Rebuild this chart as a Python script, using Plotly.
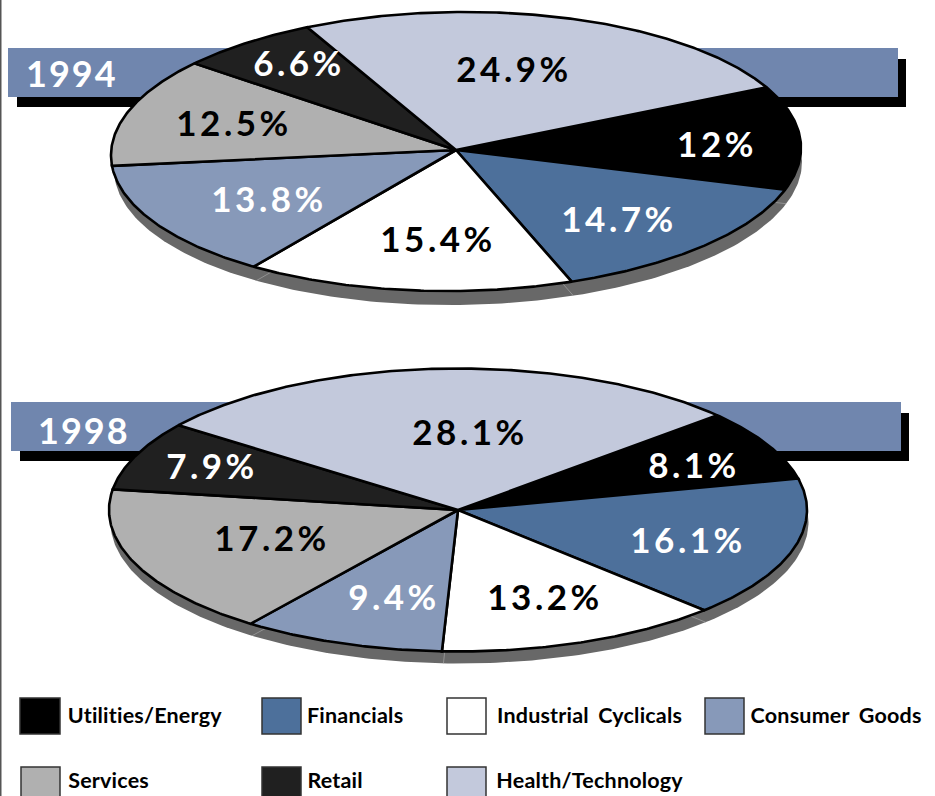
import numpy as np
import plotly.graph_objects as go

# Sector weights in percent, one list per year
sectors = ["Utilities/Energy", "Financials", "Industrial Cyclicals", "Consumer Goods",
           "Services", "Retail", "Health/Technology"]
weights_1994 = [12, 14.7, 15.4, 13.8, 12.5, 6.6, 24.9]
weights_1998 = [8.1, 16.1, 13.2, 9.4, 17.2, 7.9, 28.1]

fills = ["#000000", "#4d709b", "#ffffff", "#8799b9", "#b0b0b0", "#202020", "#c3c9dc"]
label_colors = ["#ffffff", "#ffffff", "#000000", "#ffffff", "#000000", "#ffffff", "#000000"]

# Page-pixel positions for the percentage labels
label_x_1994 = [717, 619, 438, 269, 234, 299, 514]
label_y_1994 = [148, 223, 243, 203, 127, 67, 73]
label_x_1998 = [694, 688, 545, 394, 272, 212, 470]
label_y_1998 = [469, 544, 601, 601, 542, 470, 436]

FONT = "Lato"
W, H = 935, 796
fig = go.Figure()


def outline(a, cx, cy, rx, ry, tilt):
    """Points on a slightly rotated ellipse for parameter angles a (radians)."""
    ex, ey = rx * np.cos(a), ry * np.sin(a)
    return cx + ex - tilt * ey, cy - (ey + tilt * ex)


def add_pie(values, start_deg, hub, center, rx, ry, tilt, rim):
    """Draw a foreshortened pie: each wedge spans its share of 360 degrees, clockwise."""
    total = sum(values)
    hx, hy = hub
    cx, cy = center
    dx, dy, drx = rim
    # Grey rim sits under the wedges
    t = np.linspace(0, 2 * np.pi, 361)
    rim_x, rim_y = outline(t, cx + dx, cy + dy, rx + drx, ry, tilt)
    fig.add_trace(go.Scatter(x=rim_x, y=rim_y, mode="lines", fill="toself", fillcolor="#686868",
                             line=dict(width=0), hoverinfo="skip"))
    # Faint seams on the rim where the wedges meet
    cuts = np.radians(start_deg - np.cumsum([0] + values[:-1]) / total * 360)
    end_x, end_y = outline(cuts, cx + dx, cy + dy, rx + drx, ry, tilt)
    seam_x, seam_y = [], []
    for ex, ey in zip(end_x, end_y):
        seam_x += [hx + dx, ex, None]
        seam_y += [hy + dy, ey, None]
    fig.add_trace(go.Scatter(x=seam_x, y=seam_y, mode="lines",
                             line=dict(color="#a4a4a4", width=0.7), hoverinfo="skip"))
    angle = start_deg
    for value, color in zip(values, fills):
        sweep = value / total * 360
        a = np.radians(np.linspace(angle, angle - sweep, max(int(sweep * 2), 2)))
        ox, oy = outline(a, cx, cy, rx, ry, tilt)
        xs = np.concatenate([[hx], ox, [hx]])
        ys = np.concatenate([[hy], oy, [hy]])
        fig.add_trace(go.Scatter(x=xs, y=ys, mode="lines", fill="toself", fillcolor=color,
                                 line=dict(color="#000000", width=2.6), hoverinfo="skip"))
        angle -= sweep


def add_labels(values, xs, ys):
    texts = [f"{v:g}%" for v in values]
    fig.add_trace(go.Scatter(x=xs, y=ys, mode="text", text=texts, textposition="middle center",
                             textfont=dict(family=FONT, size=35, color=label_colors, weight=700),
                             hoverinfo="skip"))


add_pie(weights_1994, 25.5, (456, 150), (456, 151.5), 345, 139.5, 0.013, (2, 14, -1))
add_labels(weights_1994, label_x_1994, label_y_1994)
add_pie(weights_1998, 42, (458, 510), (458, 510), 349, 141.5, 0.0, (1.5, 12, 0))
add_labels(weights_1998, label_x_1998, label_y_1998)

# Year banners with their hard drop shadows
banners = [(8, 898, 48, 97, 17, 906, 59, 107), (11, 901, 402, 451, 20, 909, 413, 461)]
shapes = [dict(type="rect", x0=0, x1=1.5, y0=0, y1=H, fillcolor="#555555",
               line=dict(width=0), layer="below")]
for x0, x1, y0, y1, sx0, sx1, sy0, sy1 in banners:
    shapes.append(dict(type="rect", x0=sx0, x1=sx1, y0=sy0, y1=sy1, fillcolor="#000000",
                       line=dict(width=0), layer="below"))
    shapes.append(dict(type="rect", x0=x0, x1=x1, y0=y0, y1=y1, fillcolor="#7086ae",
                       line=dict(width=0), layer="below"))

annotations = [
    dict(x=72, y=73, text="1994", showarrow=False, xanchor="center", yanchor="middle",
         font=dict(family=FONT, size=36, color="#ffffff", weight=700)),
    dict(x=84, y=429.5, text="1998", showarrow=False, xanchor="center", yanchor="middle",
         font=dict(family=FONT, size=36, color="#ffffff", weight=700)),
]

# Legend: two rows of outlined swatches with bold captions
swatch_x = [(20, 60), (262, 301), (447, 486), (705, 744), (21, 60), (262, 301), (447, 486)]
swatch_y = [(698, 734)] * 4 + [(767, 804)] * 3
caption_x = [67, 306, 499, 752, 67, 306, 496]
caption_y = [715] * 4 + [780] * 3
for name, color, (x0, x1), (y0, y1), tx, ty in zip(sectors, fills, swatch_x, swatch_y,
                                                    caption_x, caption_y):
    shapes.append(dict(type="rect", x0=x0, x1=x1, y0=y0, y1=y1, fillcolor=color,
                       line=dict(color="#333333", width=1.5), layer="below"))
    annotations.append(dict(x=tx, y=ty, text=name, showarrow=False, xanchor="left", yanchor="middle",
                            font=dict(family=FONT, size=21.5, color="#000000", weight=700)))

fig.update_layout(
    width=W, height=H, margin=dict(l=0, r=0, t=0, b=0), showlegend=False,
    paper_bgcolor="#ffffff", plot_bgcolor="#ffffff", shapes=shapes, annotations=annotations,
    xaxis=dict(range=[0, W], visible=False, fixedrange=True),
    yaxis=dict(range=[H, 0], visible=False, fixedrange=True),
)

# Open up the tracking of the big figures and thicken the strokes a little
styling = """
document.querySelectorAll('.textpoint text').forEach(t => {
  t.style.letterSpacing = '3.5px';
  t.style.webkitTextStroke = '0.6px';
});
document.querySelectorAll('.annotation-text').forEach(t => {
  const big = /^19/.test(t.textContent);
  t.style.letterSpacing = big ? '2px' : '0.2px';
  t.style.wordSpacing = big ? '0' : '4px';
  t.style.webkitTextStroke = big ? '0.6px' : '0.3px';
});
"""
fig.write_html("out.html", config={"staticPlot": True}, post_script=styling)
